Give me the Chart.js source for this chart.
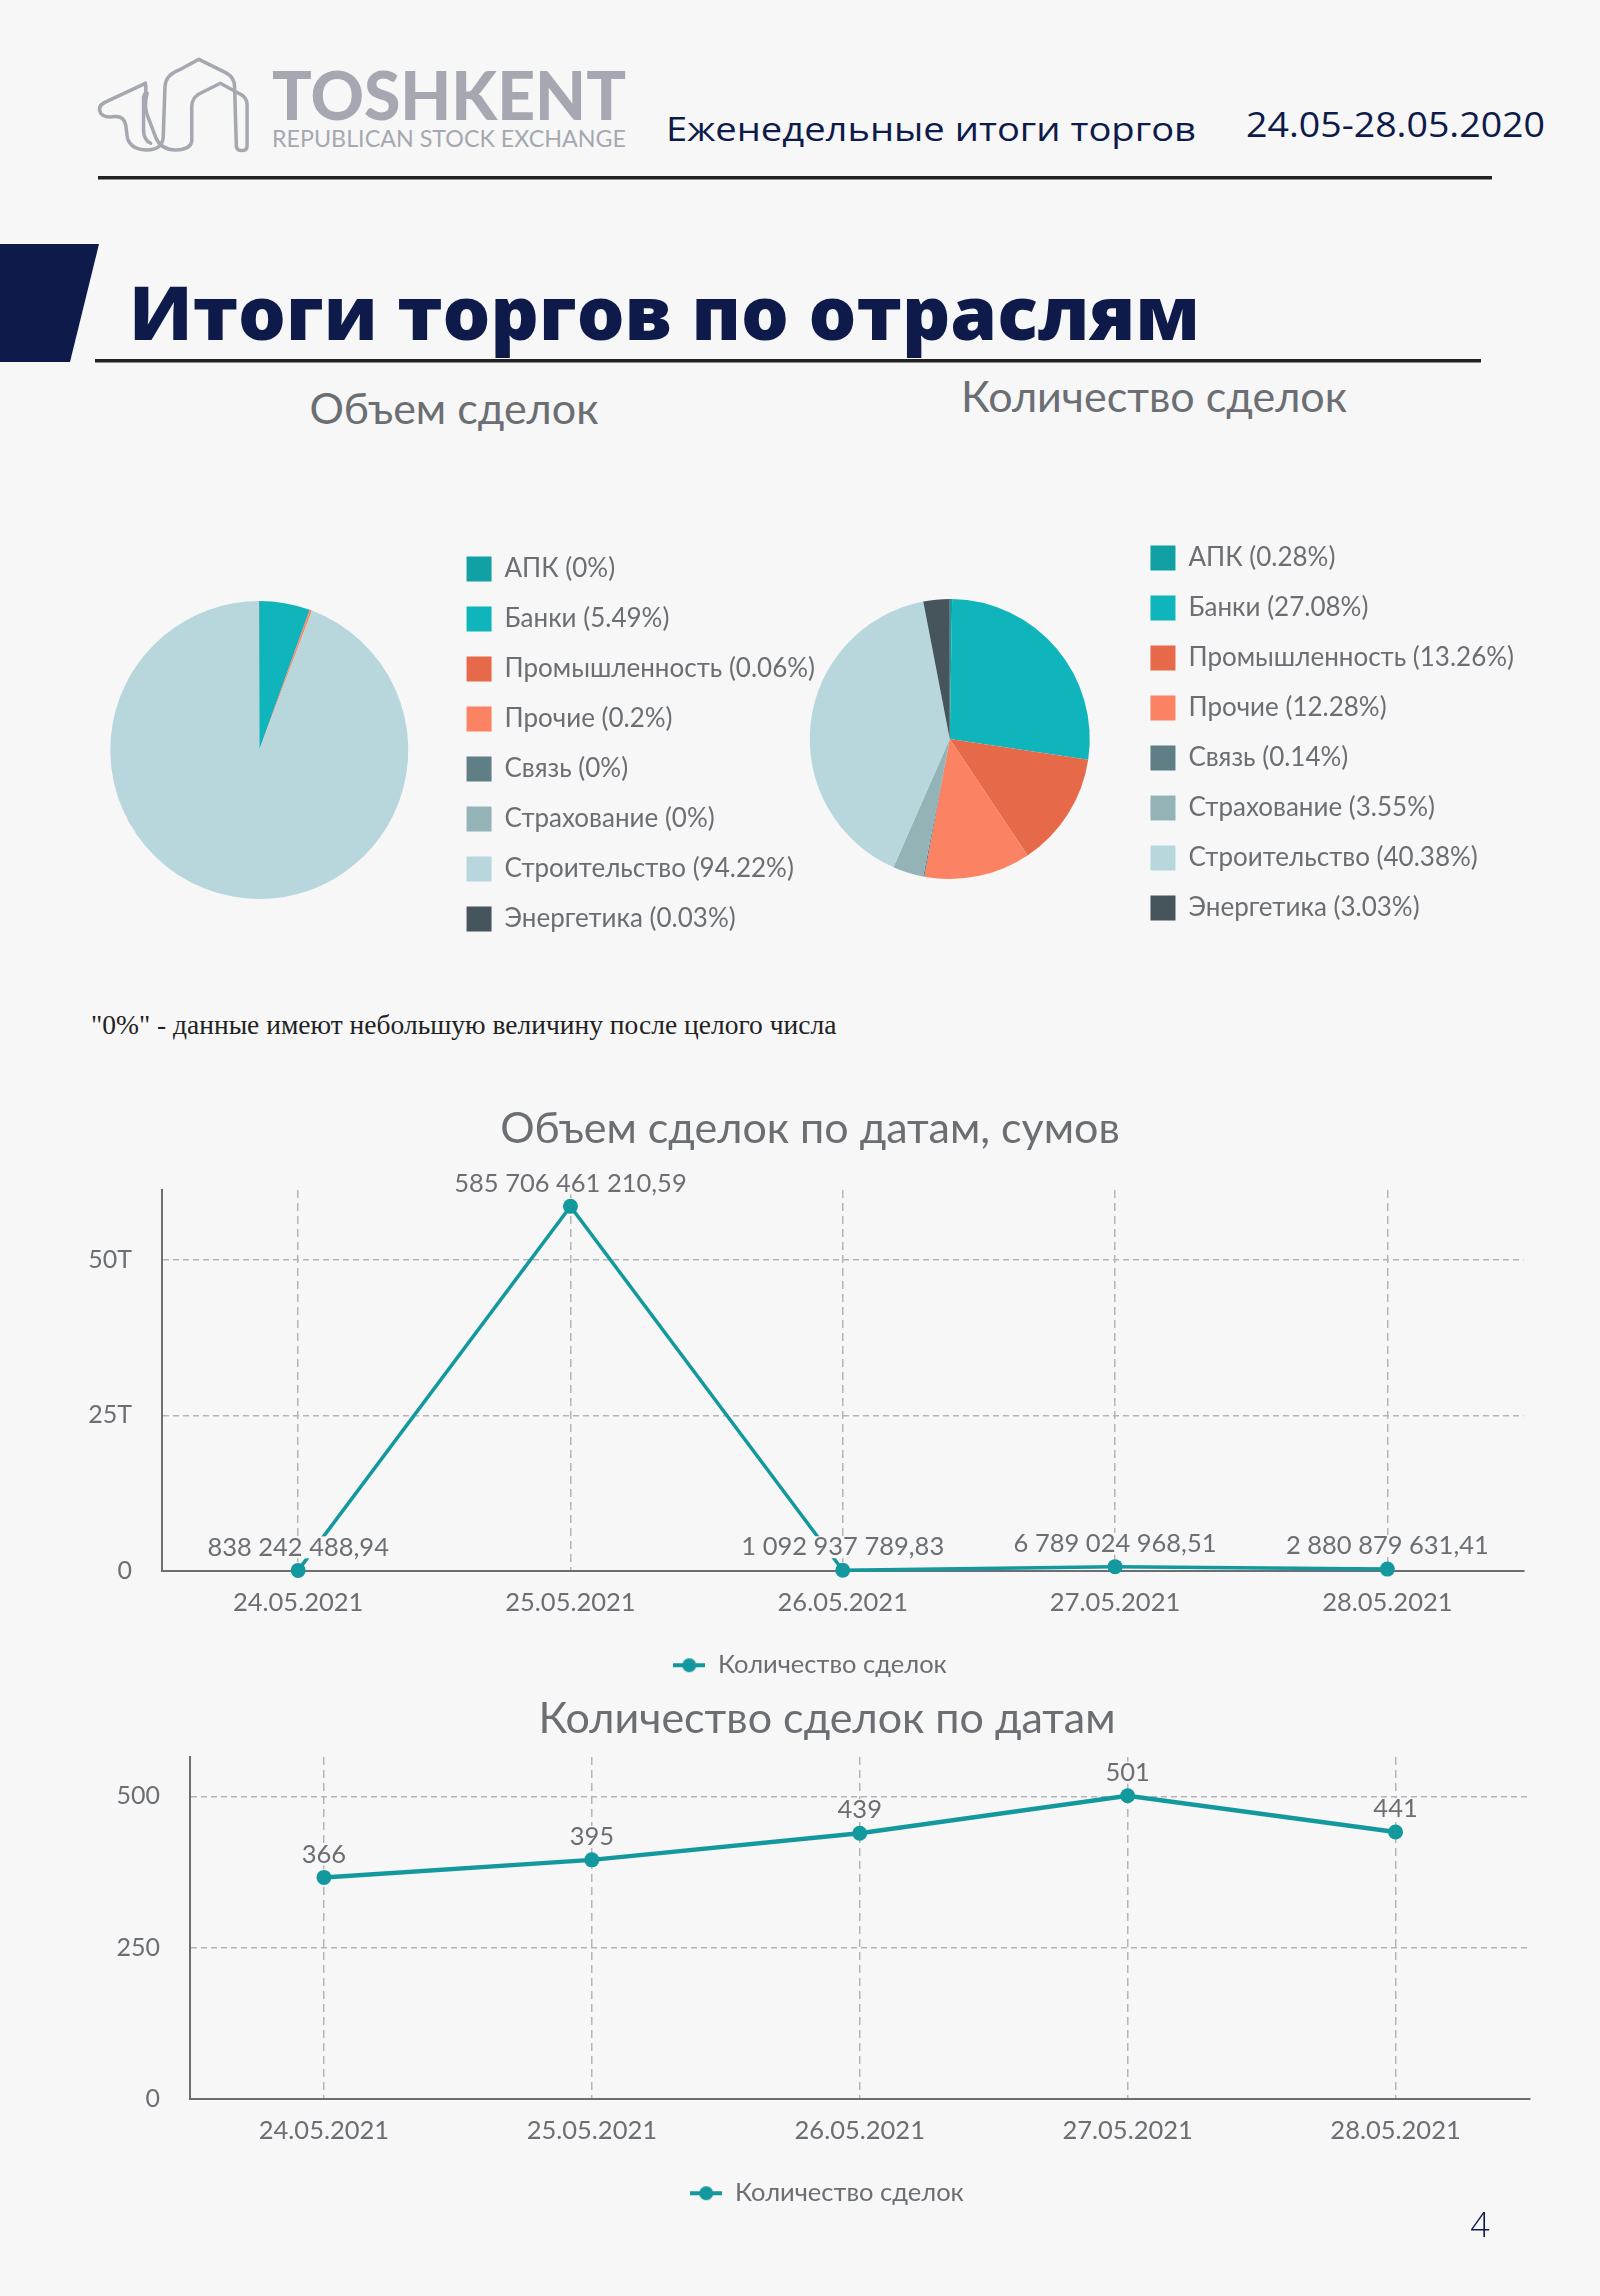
<!DOCTYPE html>
<html lang="ru">
<head>
<meta charset="utf-8">
<title>Итоги торгов по отраслям</title>
<script src="https://cdn.jsdelivr.net/npm/chart.js@4.4.0/dist/chart.umd.min.js"></script>
<style>
  html, body { margin: 0; padding: 0; background: #f7f7f7; }
  body { width: 1600px; height: 2296px; position: relative; overflow: hidden; font-family: Lato, sans-serif; }
  canvas { position: absolute; }
  .txt { position: absolute; white-space: nowrap; }
  .pie-title { font-size: 43px; color: #6b6e73; transform: translate(-50%, -50%); }
  .note { left: 91px; top: 1025px; transform: translateY(-50%); font-family: "Liberation Serif", serif; font-size: 27.5px; color: #222; }
  .page { left: 1480px; top: 2224px; transform: translate(-50%, -50%); font-family: "Open Sans", sans-serif; font-weight: 300; font-size: 34px; color: #0d1a4a; }
</style>
</head>
<body>

<svg width="1600" height="380" style="position:absolute;left:0;top:0">
  <g transform="translate(90,50) scale(0.357,0.333)" fill="none" stroke="#a5a8b1" stroke-width="3.5" stroke-linecap="round" stroke-linejoin="round">
    <path vector-effect="non-scaling-stroke" d="M155,100 L40,158 Q20,170 30,190 Q40,205 70,200 Q95,198 100,225 L105,265 Q115,300 160,300 Q200,300 205,265 L210,110 Q212,75 250,60 L305,28 L380,68 Q405,82 405,110 L410,290 Q412,302 425,302 Q440,302 440,288 L440,165 Q440,142 420,132 L365,100 L305,132 Q285,145 285,170 L285,275 Q280,300 240,300 Q200,300 185,265 L162,200 Q150,170 160,130"/>
    <path vector-effect="non-scaling-stroke" d="M155,100 Q160,125 150,140 L150,240 Q150,270 170,280"/>
  </g>
  <text x="272" y="120" font-family="Lato" font-weight="900" font-size="66" fill="#a5a8b1" textLength="354" lengthAdjust="spacingAndGlyphs">TOSHKENT</text>
  <text x="272" y="147" font-family="Lato" font-size="23" fill="#a5a8b1" textLength="354" lengthAdjust="spacingAndGlyphs">REPUBLICAN STOCK EXCHANGE</text>
  <text x="666" y="141" font-family="Open Sans" font-size="33" fill="#0d1a4a" textLength="530" lengthAdjust="spacingAndGlyphs">Еженедельные итоги торгов</text>
  <text x="1246" y="137" font-family="Open Sans" font-size="34" fill="#0d1a4a" textLength="299" lengthAdjust="spacingAndGlyphs">24.05-28.05.2020</text>
  <rect x="98" y="176" width="1394" height="3.5" fill="#222"/>
  <polygon points="0,244 99,244 70,362 0,362" fill="#0d1a4a"/>
  <text x="129" y="340" font-family="Open Sans" font-weight="800" font-size="75" fill="#0d1a4a" textLength="1071" lengthAdjust="spacingAndGlyphs">Итоги торгов по отраслям</text>
  <rect x="95" y="359" width="1386" height="3.5" fill="#222"/>
</svg>

<div class="txt pie-title" style="left:454px;top:407px">Объем сделок</div>
<div class="txt pie-title" style="left:1154px;top:395px">Количество сделок</div>

<canvas id="volumePie" width="749" height="436" style="left:76px;top:532px"></canvas>
<canvas id="countPie" width="751" height="436" style="left:773px;top:521px"></canvas>

<div class="txt note">"0%" - данные имеют небольшую величину после целого числа</div>

<canvas id="volumeLine" width="1442" height="593" style="left:89px;top:1095px"></canvas>
<canvas id="countLine" width="1420" height="531" style="left:117px;top:1685px"></canvas>

<div class="txt page">4</div>

<script>
// sectors and their shares, %
const sectors = ['АПК', 'Банки', 'Промышленность', 'Прочие', 'Связь', 'Страхование', 'Строительство', 'Энергетика'];
const volumeShare = [0, 5.49, 0.06, 0.2, 0, 0, 94.22, 0.03];
const countShare = [0.28, 27.08, 13.26, 12.28, 0.14, 3.55, 40.38, 3.03];
const sectorColors = ['#11a0a4', '#10b4bb', '#e66a4a', '#fb8263', '#5f7e85', '#93b3b7', '#b8d7dc', '#46555c'];

// by dates
const dates = ['24.05.2021', '25.05.2021', '26.05.2021', '27.05.2021', '28.05.2021'];
const volumeValues = [83824248894, 58570646121059, 109293778983, 678902496851, 288087963141];
const volumeLabels = ['838 242 488,94', '585 706 461 210,59', '1 092 937 789,83', '6 789 024 968,51', '2 880 879 631,41'];
const volumeTicks = [0, 25e12, 50e12];
const dealCounts = [366, 395, 439, 501, 441];
const countTicks = [0, 250, 500];

const textColor = '#6b6e73';
const lineColor = '#13999d';
const gridColor = '#b5b5b5';

Chart.defaults.font.family = 'Lato';
Chart.defaults.color = textColor;

function makePie(id, shares, radius) {
  return new Chart(document.getElementById(id), {
    type: 'pie',
    data: {
      labels: sectors,
      datasets: [{ data: shares, backgroundColor: sectorColors, borderWidth: 0 }]
    },
    options: {
      responsive: false,
      animation: false,
      events: [],
      radius: radius,
      plugins: {
        tooltip: { enabled: false },
        legend: {
          position: 'right',
          align: 'start',
          maxWidth: 440,
          labels: {
            font: { size: 26 },
            color: textColor,
            boxWidth: 25,
            boxHeight: 25,
            padding: 24,
            useBorderRadius: true,
            borderRadius: 2,
            generateLabels: () => sectors.map((s, i) => ({
              text: s + ' (' + shares[i] + '%)',
              fillStyle: sectorColors[i],
              strokeStyle: sectorColors[i],
              lineWidth: 0,
              fontColor: textColor,
              hidden: false,
              index: i
            }))
          }
        }
      }
    }
  });
}

// value labels above the points, on a page-coloured patch
const valueLabels = {
  id: 'valueLabels',
  afterDatasetsDraw(chart, args, opts) {
    const ctx = chart.ctx;
    const meta = chart.getDatasetMeta(0);
    ctx.save();
    ctx.font = '25.5px Lato';
    ctx.textAlign = 'center';
    ctx.textBaseline = 'middle';
    meta.data.forEach((pt, i) => {
      const text = opts.labels[i];
      const w = ctx.measureText(text).width;
      const y = pt.y - 23;
      ctx.fillStyle = '#f7f7f7';
      ctx.fillRect(pt.x - w / 2 - 2, y - 11, w + 4, 22);
      ctx.fillStyle = textColor;
      ctx.fillText(text, pt.x, y);
    });
    ctx.restore();
  }
};

function legendMarker() {
  const c = document.createElement('canvas');
  c.width = 32;
  c.height = 16;
  const g = c.getContext('2d');
  g.strokeStyle = lineColor;
  g.lineWidth = 4;
  g.beginPath(); g.moveTo(0, 8); g.lineTo(32, 8); g.stroke();
  g.fillStyle = lineColor;
  g.beginPath(); g.arc(16, 8, 7, 0, Math.PI * 2); g.fill();
  return c;
}

function makeLine(id, title, values, labels, max, ticks, fmt, lineWidth, titleGap) {
  return new Chart(document.getElementById(id), {
    type: 'line',
    data: {
      labels: dates,
      datasets: [{
        label: 'Количество сделок',
        data: values,
        borderColor: lineColor,
        backgroundColor: lineColor,
        borderWidth: lineWidth,
        pointRadius: 7.5,
        pointBorderWidth: 0,
        pointBackgroundColor: lineColor,
        tension: 0,
        clip: false
      }]
    },
    options: {
      responsive: false,
      animation: false,
      events: [],
      layout: { padding: 0 },
      scales: {
        x: {
          offset: true,
          grid: { offset: false, color: gridColor, lineWidth: 1.5, drawTicks: false },
          border: { display: true, color: textColor, width: 2, dash: [8, 5] },
          ticks: { font: { size: 25.5 }, color: textColor, padding: 17 }
        },
        y: {
          min: 0,
          max: max,
          afterBuildTicks: ax => { ax.ticks = ticks.map(v => ({ value: v })); },
          afterFit: ax => { ax.width = 73; },
          grid: {
            color: c => (c.tick && c.tick.value === 0) ? 'rgba(0,0,0,0)' : gridColor,
            lineWidth: 1.5,
            drawTicks: false
          },
          border: { display: true, color: textColor, width: 2, dash: [6, 4] },
          ticks: { font: { size: 25 }, color: textColor, padding: 30, callback: fmt }
        }
      },
      plugins: {
        tooltip: { enabled: false },
        title: {
          display: true,
          text: title,
          font: { size: 43, weight: 'normal' },
          color: textColor,
          padding: { top: 8, bottom: titleGap }
        },
        legend: {
          position: 'bottom',
          labels: {
            usePointStyle: true,
            pointStyle: legendMarker(),
            pointStyleWidth: 32,
            font: { size: 25.5 },
            color: textColor,
            padding: 17
          }
        },
        valueLabels: { labels: labels }
      }
    },
    plugins: [valueLabels]
  });
}

makePie('volumePie', volumeShare, 149);
makePie('countPie', countShare, 140);

makeLine('volumeLine', 'Объем сделок по датам, сумов', volumeValues, volumeLabels, 61.2e12, volumeTicks,
  v => v === 0 ? '0' : (v / 1e12) + 'T', 3.5, 35.4);
makeLine('countLine', 'Количество сделок по датам', dealCounts, dealCounts.map(String), 565, countTicks,
  v => String(v), 4.5, 12.4);
</script>
</body>
</html>
